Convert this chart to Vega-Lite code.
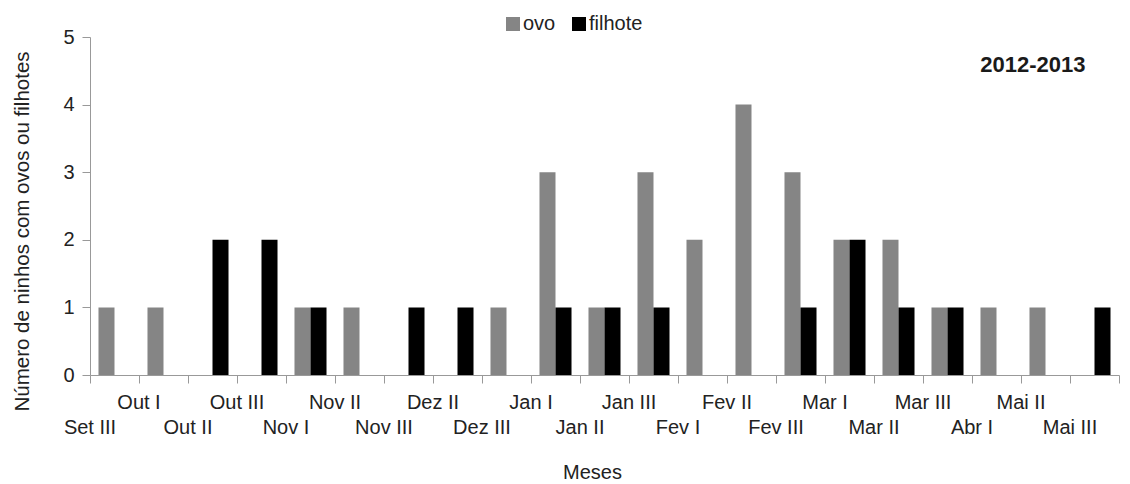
{
  "$schema": "https://vega.github.io/schema/vega-lite/v6.json",
  "autosize": "none",
  "width": 1029,
  "height": 338,
  "padding": {"left": 90, "top": 37, "right": 11, "bottom": 109},
  "background": "white",
  "title": {"text": "2012-2013", "anchor": "end", "fontSize": 22, "fontWeight": "bold", "font": "Liberation Sans", "color": "#1a1a1a", "dx": -34, "dy": 73, "baseline": "middle", "offset": 0},
  "config": {"view": {"stroke": null}, "font": "Liberation Sans"},
  "data": {"values": [
    {"mes": "Set III", "serie": "ovo", "n": 1},
    {"mes": "Out I", "serie": "ovo", "n": 1},
    {"mes": "Out II", "serie": "filhote", "n": 2},
    {"mes": "Out III", "serie": "filhote", "n": 2},
    {"mes": "Nov I", "serie": "ovo", "n": 1},
    {"mes": "Nov I", "serie": "filhote", "n": 1},
    {"mes": "Nov II", "serie": "ovo", "n": 1},
    {"mes": "Nov III", "serie": "filhote", "n": 1},
    {"mes": "Dez II", "serie": "filhote", "n": 1},
    {"mes": "Dez III", "serie": "ovo", "n": 1},
    {"mes": "Jan I", "serie": "ovo", "n": 3},
    {"mes": "Jan I", "serie": "filhote", "n": 1},
    {"mes": "Jan II", "serie": "ovo", "n": 1},
    {"mes": "Jan II", "serie": "filhote", "n": 1},
    {"mes": "Jan III", "serie": "ovo", "n": 3},
    {"mes": "Jan III", "serie": "filhote", "n": 1},
    {"mes": "Fev I", "serie": "ovo", "n": 2},
    {"mes": "Fev II", "serie": "ovo", "n": 4},
    {"mes": "Fev III", "serie": "ovo", "n": 3},
    {"mes": "Fev III", "serie": "filhote", "n": 1},
    {"mes": "Mar I", "serie": "ovo", "n": 2},
    {"mes": "Mar I", "serie": "filhote", "n": 2},
    {"mes": "Mar II", "serie": "ovo", "n": 2},
    {"mes": "Mar II", "serie": "filhote", "n": 1},
    {"mes": "Mar III", "serie": "ovo", "n": 1},
    {"mes": "Mar III", "serie": "filhote", "n": 1},
    {"mes": "Abr I", "serie": "ovo", "n": 1},
    {"mes": "Mai II", "serie": "ovo", "n": 1},
    {"mes": "Mai III", "serie": "filhote", "n": 1}
  ]},
  "mark": {"type": "bar"},
  "encoding": {
    "x": {
      "field": "mes", "type": "nominal",
      "scale": {"domain": ["Set III","Out I","Out II","Out III","Nov I","Nov II","Nov III","Dez II","Dez III","Jan I","Jan II","Jan III","Fev I","Fev II","Fev III","Mar I","Mar II","Mar III","Abr I","Mai II","Mai III"], "paddingInner": 0, "paddingOuter": 0},
      "axis": {
        "title": "Meses", "titleFontSize": 20, "titleFontWeight": "normal", "titleColor": "#222", "titlePadding": 25, "titleFont": "Liberation Sans", "titleX": 502,
        "labelAngle": 0, "labelFontSize": 20, "labelColor": "#222", "labelFont": "Liberation Sans",
        "bandPosition": 1, "tickExtra": true, "labelOffset": -24.5,
        "tickSize": 8, "labelBaseline": "top",
        "labelPadding": {"condition": {"test": "indexof(['Set III','Out II','Nov I','Nov III','Dez III','Jan II','Fev I','Fev III','Mar II','Abr I','Mai III'], datum.value) >= 0", "value": 34}, "value": 9},
        "domainColor": "#999", "tickColor": "#999", "labelOverlap": false
      }
    },
    "xOffset": {"field": "serie", "type": "nominal", "sort": ["ovo", "filhote"], "scale": {"domain": ["ovo", "filhote"], "paddingInner": 0, "paddingOuter": 0.53}},
    "y": {
      "field": "n", "type": "quantitative",
      "scale": {"domain": [0, 5], "nice": false},
      "axis": {
        "title": "Número de ninhos com ovos ou filhotes", "titleFontSize": 20.5, "titleFontWeight": "normal", "titleColor": "#222", "titlePadding": 30, "titleFont": "Liberation Sans", "titleY": 194,
        "values": [0, 1, 2, 3, 4, 5], "grid": false, "tickSize": 8, "labelPadding": 8,
        "labelFontSize": 20, "labelColor": "#222", "labelFont": "Liberation Sans",
        "domainColor": "#999", "tickColor": "#999"
      }
    },
    "color": {
      "field": "serie", "type": "nominal",
      "scale": {"domain": ["ovo", "filhote"], "range": ["#858585", "#000000"]},
      "legend": {
        "title": null, "orient": "none", "direction": "horizontal", "legendX": 413, "legendY": -23,
        "symbolType": "square", "symbolSize": 196, "symbolStrokeWidth": 0, "symbolOpacity": 1,
        "labelFontSize": 20, "labelColor": "#222", "labelFont": "Liberation Sans", "labelOffset": 0,
        "columnPadding": 13, "padding": 0
      }
    }
  }
}
